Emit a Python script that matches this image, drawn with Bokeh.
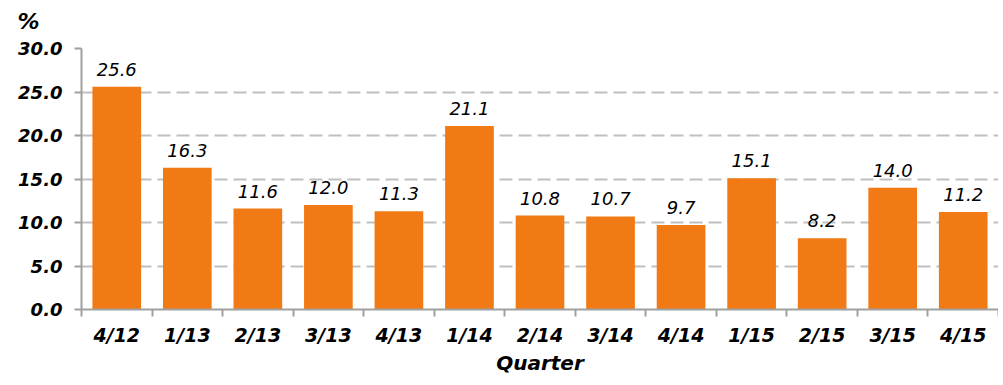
from bokeh.plotting import figure
from bokeh.models import (ColumnDataSource, Range1d, FixedTicker, NumeralTickFormatter, Title)
from bokeh.core.properties import value
from bokeh.embed import file_html
from bokeh.resources import INLINE

quarters = ["4/12", "1/13", "2/13", "3/13", "4/13", "1/14", "2/14", "3/14", "4/14", "1/15", "2/15", "3/15", "4/15"]
values = [25.6, 16.3, 11.6, 12.0, 11.3, 21.1, 10.8, 10.7, 9.7, 15.1, 8.2, 14.0, 11.2]
y_ticks = [0, 5, 10, 15, 20, 25, 30]

FONT = "DejaVu Sans"
ORANGE = "#F27A14"
AXIS_GRAY = "#A0A0A0"

pos = [i + 0.5 for i in range(len(quarters))]
src = ColumnDataSource(dict(x=pos, top=values, label=["%.1f" % v for v in values]))

p = figure(width=998, height=377, output_backend="svg", toolbar_location=None,
           x_range=Range1d(0, len(quarters)), y_range=Range1d(0, 30),
           min_border_left=81, min_border_right=0, min_border_top=48, min_border_bottom=66)
p.outline_line_color = None
p.background_fill_color = "white"
p.border_fill_color = "white"

p.vbar(x="x", top="top", width=0.69, source=src, fill_color=ORANGE, line_color=None)
p.text(x="x", y="top", text="label", source=src, y_offset=-11, text_align="center",
       text_baseline="bottom", text_font=value(FONT), text_font_style="italic",
       text_font_size="18px", text_color="black")

# x axis
p.xaxis.ticker = FixedTicker(ticks=pos, minor_ticks=list(range(len(quarters) + 1)))
p.xaxis.major_label_overrides = {pos[i]: q for i, q in enumerate(quarters)}
p.xaxis.major_tick_line_color = None
p.xaxis.minor_tick_out = 7
p.xaxis.minor_tick_in = 0
p.xaxis.minor_tick_line_color = AXIS_GRAY
p.xaxis.minor_tick_line_width = 2
p.xaxis.axis_line_color = AXIS_GRAY
p.xaxis.axis_line_width = 2
p.xaxis.major_label_text_font = FONT
p.xaxis.major_label_text_font_style = "bold italic"
p.xaxis.major_label_text_font_size = "19px"
p.xaxis.major_label_text_color = "black"
p.xaxis.major_label_standoff = 7
p.xaxis.axis_label = "Quarter"
p.xaxis.axis_label_text_font = FONT
p.xaxis.axis_label_text_font_style = "bold italic"
p.xaxis.axis_label_text_font_size = "20px"
p.xaxis.axis_label_text_color = "black"
p.xaxis.axis_label_standoff = 2

# y axis
p.yaxis.ticker = FixedTicker(ticks=y_ticks)
p.yaxis.formatter = NumeralTickFormatter(format="0.0")
p.yaxis.major_tick_out = 7
p.yaxis.major_tick_in = 0
p.yaxis.major_tick_line_color = AXIS_GRAY
p.yaxis.major_tick_line_width = 2
p.yaxis.minor_tick_line_color = None
p.yaxis.axis_line_color = AXIS_GRAY
p.yaxis.axis_line_width = 2
p.yaxis.major_label_text_font = FONT
p.yaxis.major_label_text_font_style = "bold italic"
p.yaxis.major_label_text_font_size = "18px"
p.yaxis.major_label_text_color = "black"
p.yaxis.major_label_standoff = 12

p.xgrid.grid_line_color = None
p.ygrid.grid_line_color = "#C0C0C0"
p.ygrid.grid_line_dash = "13 6"
p.ygrid.grid_line_width = 2

t = Title(text="%\n ", align="left", offset=-64, text_line_height=0.4, text_font=FONT,
          text_font_style="bold italic", text_font_size="22px", text_color="black")
p.add_layout(t, "above")

open("out.html", "w").write(file_html(p, INLINE))
